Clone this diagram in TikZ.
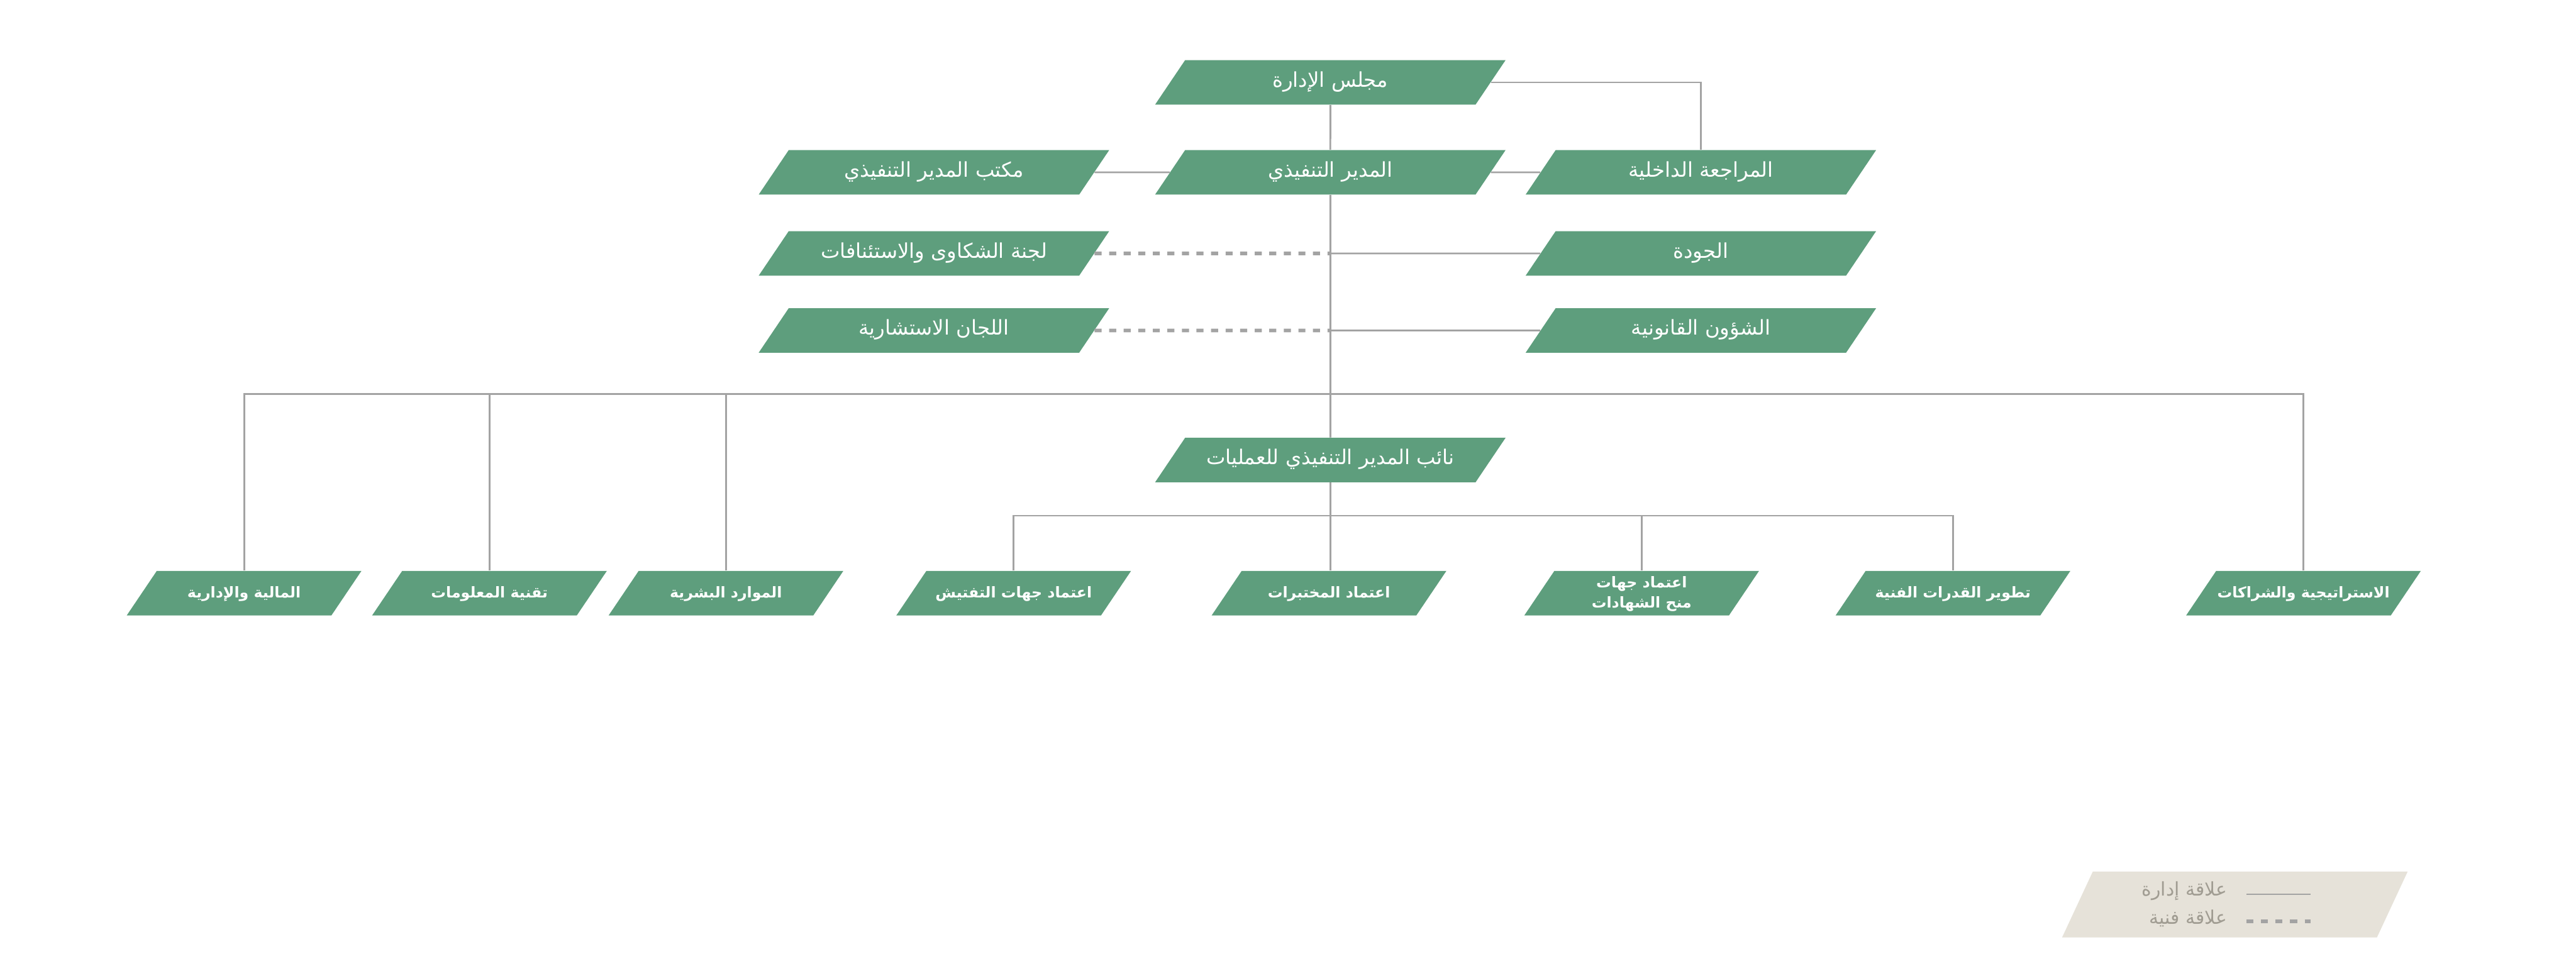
\documentclass[tikz,border=0pt]{standalone}
\usepackage{fontspec}
\usepackage{xcolor}
\newfontfamily\arabicfont[Script=Arabic]{DejaVu Sans}
\TeXXeTstate=1
\usetikzlibrary{shapes.geometric, positioning, calc}

\definecolor{boxgreen}{RGB}{94,158,125}
\definecolor{linegray}{RGB}{163,163,163}
\definecolor{legendbg}{RGB}{230,226,217}
\definecolor{legendtext}{RGB}{160,156,146}

\tikzset{
  unit/.style={trapezium, trapezium left angle=56, trapezium right angle=124,
    trapezium stretches body, fill=boxgreen, text=white,
    inner xsep=0pt, inner ysep=0.3cm, text height=0.3cm, text depth=0.1cm,
    minimum width=7.87cm, align=center,
    font=\arabicfont\fontsize{13}{16}\selectfont},
  dept/.style={unit, minimum width=5.27cm,
    font=\arabicfont\bfseries\fontsize{9.5}{13}\selectfont},
  mgmt/.style={draw=linegray, line width=1.15pt},
  tech/.style={draw=linegray, line width=2.3pt, dash pattern=on 4.5pt off 4.8pt},
  keytext/.style={text=legendtext, anchor=east, inner sep=0pt,
    font=\arabicfont\fontsize{12}{14}\selectfont}
}

\begin{document}
\begin{tikzpicture}
  \useasboundingbox (0,0) rectangle (57.84,-21.79);

  % top management
  \node[unit] (board) at (29.87,-1.85) {\beginR مجلس الإدارة\endR};
  \node[unit] (exec) at (29.87,-3.87) {\beginR المدير التنفيذي\endR};
  \node[unit] (audit) at (38.19,-3.87) {\beginR المراجعة الداخلية\endR};
  \node[unit] (office) at (20.97,-3.87) {\beginR مكتب المدير التنفيذي\endR};
  \node[unit] (complaints) at (20.97,-5.69) {\beginR لجنة الشكاوى والاستئنافات\endR};
  \node[unit] (advisory) at (20.97,-7.42) {\beginR اللجان الاستشارية\endR};
  \node[unit] (quality) at (38.19,-5.69) {\beginR الجودة\endR};
  \node[unit] (legal) at (38.19,-7.42) {\beginR الشؤون القانونية\endR};
  \node[unit] (deputy) at (29.87,-10.33) {\beginR نائب المدير التنفيذي للعمليات\endR};

  % departments
  \node[dept] (fin) at (5.48,-13.32) {\beginR المالية والإدارية\endR};
  \node[dept] (it) at (10.99,-13.32) {\beginR تقنية المعلومات\endR};
  \node[dept] (hr) at (16.30,-13.32) {\beginR الموارد البشرية\endR};
  \node[dept] (insp) at (22.76,-13.32) {\beginR اعتماد جهات التفتيش\endR};
  \node[dept] (lab) at (29.84,-13.32) {\beginR اعتماد المختبرات\endR};
  \node[dept, text height=0.76cm, text depth=0.1cm, inner ysep=0.07cm] (cert) at (36.86,-13.32)
    {\beginR اعتماد جهات\endR\\\beginR منح الشهادات\endR};
  \node[dept] (dev) at (43.85,-13.32) {\beginR تطوير القدرات الفنية\endR};
  \node[dept] (strat) at (51.72,-13.32) {\beginR الاستراتيجية والشراكات\endR};

  \coordinate (bus1) at (29.87,-8.85);
  \coordinate (bus2) at (29.87,-11.58);

  % management lines
  \draw[mgmt] (board) -- (exec);
  \draw[mgmt] (board.east) -| (audit.north);
  \draw[mgmt] (exec) -- (audit);
  \draw[mgmt] (exec) -- (office);
  \draw[mgmt] (exec) -- (deputy);
  \draw[mgmt] (complaints -| exec) -- (quality);
  \draw[mgmt] (advisory -| exec) -- (legal);
  \draw[mgmt] (fin.north) |- (bus1) -| (strat.north);
  \draw[mgmt] (it.north) |- (bus1);
  \draw[mgmt] (hr.north) |- (bus1);
  \draw[mgmt] (insp.north) |- (bus2) -| (dev.north);
  \draw[mgmt] (deputy.south) -- (deputy.south |- lab.north);
  \draw[mgmt] (cert.north) |- (bus2);

  % technical lines
  \draw[tech] (complaints) -- (complaints -| exec);
  \draw[tech] (advisory) -- (advisory -| exec);

  % legend
  \node[trapezium, trapezium left angle=65, trapezium right angle=115,
    trapezium stretches body, fill=legendbg, inner xsep=0pt, inner ysep=0.74cm,
    minimum width=7.76cm] (legend) at (50.18,-20.31) {};
  \coordinate (keyA) at ($(legend.center)+(0.26,0.23)$);
  \coordinate (keyB) at ($(legend.center)+(1.70,0.23)$);
  \coordinate (keyC) at ($(legend.center)+(0.26,-0.38)$);
  \coordinate (keyD) at ($(legend.center)+(1.70,-0.38)$);
  \draw[mgmt] (keyA) -- (keyB);
  \draw[tech] (keyC) -- (keyD);
  \node[keytext] (keymgmt) at ($(legend.center)+(-0.17,0.31)$) {\beginR علاقة إدارة\endR};
  \node[keytext] (keytech) at ($(legend.center)+(-0.17,-0.31)$) {\beginR علاقة فنية\endR};
\end{tikzpicture}
\end{document}
